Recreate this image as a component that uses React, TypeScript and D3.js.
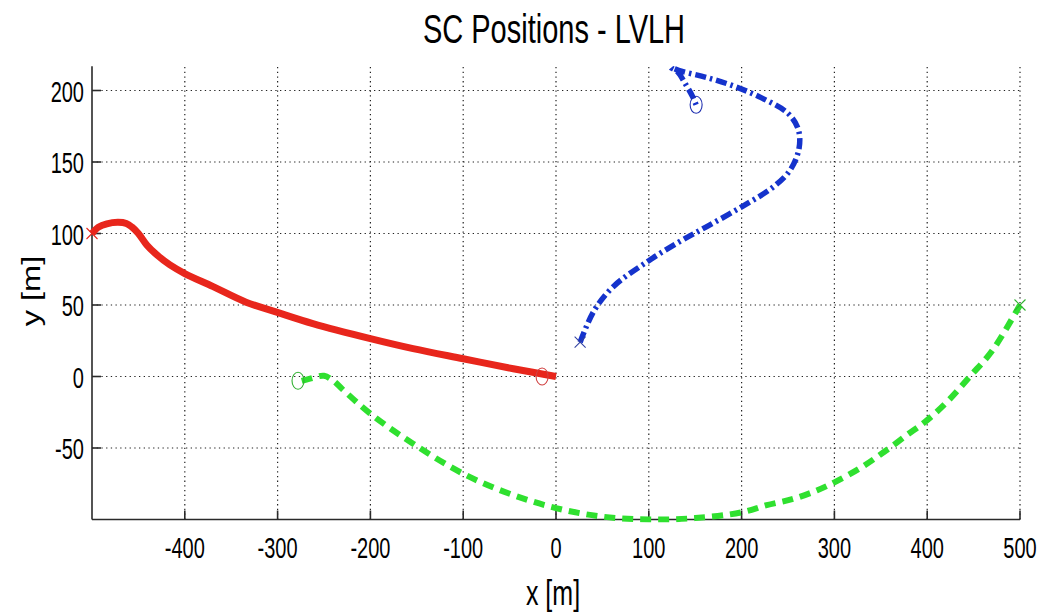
import React from "react";
import * as d3 from "d3";

const xTicks = [-400, -300, -200, -100, 0, 100, 200, 300, 400, 500];
const yTicks = [-50, 0, 50, 100, 150, 200];
const xGrid = [-400, -300, -200, -100, 0, 100, 200, 300, 400, 500];
const yGrid = [-50, 0, 50, 100, 150, 200];

// SC 1 (red, solid)
const redX = [-500, -493, -484, -472, -463, -457, -450, -441, -430, -416, -400, -370, -334, -301, -262, -200, -154, -100, -46, 0];
const redY = [100, 104.5, 106.8, 107.8, 107, 104.5, 100, 92, 85, 78, 72, 63, 52, 45, 37, 26.5, 19.5, 12.4, 5.4, 0];
const redStart = [-500, 100];
const redEnd = [-15, 0];

// SC 2 (green, dashed)
const greenX = [-274, -265, -250, -240, -230, -200, -154, -100, -50, 0, 50, 100, 150, 200, 227, 256, 281, 300, 328, 353, 378, 400, 423, 446, 470, 500];
const greenY = [-3, -1.5, 0.5, -3, -9, -26, -47, -68, -82, -92, -98, -100, -99, -95, -90, -85.5, -79.7, -74, -64, -53, -41, -30.5, -16.7, 0, 18, 50];
const greenStart = [-278, -3];
const greenEnd = [500, 50];

// SC 3 (blue, dash-dot)
const blueX = [26, 41, 62, 100, 135, 163, 201, 235, 253, 262, 261, 250, 221, 192, 163, 135, 124, 131, 140, 147, 151];
const blueY = [24, 46, 63, 81, 95, 105, 119, 133, 145, 160, 173, 184, 195, 203, 209, 213.5, 216, 213, 204, 196, 190];
const blueStart = [26, 24];
const blueEnd = [151, 190];

const W = 1057;
const H = 613;
const FONT = "'Liberation Sans', Arial, Helvetica, sans-serif";

export default function App() {
  const x = d3.scaleLinear().domain([-500, 500]).range([92, 1020]);
  const y = d3.scaleLinear().domain([-100, 217]).range([519.5, 519.5 - 317 * 1.43]);
  const [x0, x1] = x.range();
  const [yb, yt] = y.range();

  const line = d3
    .line<[number, number]>()
    .x((d) => x(d[0]))
    .y((d) => y(d[1]))
    .curve(d3.curveCatmullRom.alpha(0.5));

  const red = redX.map((v, i) => [v, redY[i]] as [number, number]);
  const green = greenX.map((v, i) => [v, greenY[i]] as [number, number]);
  const blue = blueX.map((v, i) => [v, blueY[i]] as [number, number]);

  const cross = (p: number[], color: string, key: string) => {
    const cx = x(p[0]);
    const cy = y(p[1]);
    const s = 5.5;
    return (
      <g key={key} stroke={color} strokeWidth={1.1}>
        <line x1={cx - s} y1={cy - s} x2={cx + s} y2={cy + s} />
        <line x1={cx - s} y1={cy + s} x2={cx + s} y2={cy - s} />
      </g>
    );
  };
  const circ = (p: number[], color: string, key: string) => (
    <ellipse key={key} cx={x(p[0])} cy={y(p[1])} rx={6} ry={8.5} fill="none" stroke={color} strokeWidth={1.1} />
  );

  return (
    <svg width={W} height={H} style={{ position: "absolute", left: 0, top: 0, background: "#fff" }}>
      <defs>
        <clipPath id="plotclip">
          <rect x={x0 - 6} y={yt - 3} width={x1 - x0 + 12} height={yb - yt + 6} />
        </clipPath>
      </defs>
      <rect x={0} y={0} width={W} height={H} fill="#fff" />
      {/* grid */}
      <g stroke="#222" strokeWidth={1.2} strokeDasharray="1.3,3.4">
        {xGrid.map((v) => (
          <line key={"gx" + v} x1={x(v)} x2={x(v)} y1={yb} y2={yt} />
        ))}
        {yGrid.map((v) => (
          <line key={"gy" + v} x1={x0} x2={x1} y1={y(v)} y2={y(v)} />
        ))}
      </g>
      {/* axes */}
      <g stroke="#2a2a2a" strokeWidth={1.6}>
        <line x1={x0} x2={x0} y1={yb} y2={yt} />
        <line x1={x0} x2={x1} y1={yb} y2={yb} />
        {xTicks.map((v) => (
          <line key={"tx" + v} x1={x(v)} x2={x(v)} y1={yb} y2={yb - 9} />
        ))}
        {yTicks.map((v) => (
          <line key={"ty" + v} x1={x0} x2={x0 + 9} y1={y(v)} y2={y(v)} />
        ))}
      </g>
      {/* tick labels */}
      <g fontFamily={FONT} fontSize={20} fill="#000">
        {xTicks.map((v) => (
          <text key={"lx" + v} transform={`translate(${x(v)},557.5) scale(1,1.5)`} textAnchor="middle">
            {v}
          </text>
        ))}
        {yTicks.map((v) => (
          <text key={"ly" + v} transform={`translate(84,${y(v) + 11}) scale(1,1.5)`} textAnchor="end">
            {v}
          </text>
        ))}
      </g>
      {/* data */}
      <g clipPath="url(#plotclip)" fill="none" strokeLinecap="butt" strokeLinejoin="round">
        <path d={line(red) || ""} stroke="#e8261c" strokeWidth={7} />
        <path d={line(green) || ""} stroke="#2fe02f" strokeWidth={6} strokeDasharray="11,7" />
        <path d={line(blue) || ""} stroke="#1533cc" strokeWidth={5.5} strokeDasharray="11,4,2.5,4" />
        {cross(redStart, "#e8261c", "rs")}
        {circ(redEnd, "#d04040", "re")}
        {circ(greenStart, "#30b030", "gs")}
        {cross(greenEnd, "#30b030", "ge")}
        {cross(blueStart, "#3040a0", "bs")}
        {circ(blueEnd, "#2030b0", "be")}
      </g>
      {/* titles */}
      <text
        transform="translate(554,43) scale(1,1.38)"
        textAnchor="middle"
        fontFamily={FONT}
        fontSize={29}
        fill="#000"
      >
        SC Positions - LVLH
      </text>
      <text
        transform="translate(553,605) scale(1,1.38)"
        textAnchor="middle"
        fontFamily={FONT}
        fontSize={25}
        fill="#000"
      >
        x [m]
      </text>
      <text
        transform="translate(40,291) scale(1,1.3) rotate(-90)"
        textAnchor="middle"
        fontFamily={FONT}
        fontSize={25}
        fill="#000"
      >
        y [m]
      </text>
    </svg>
  );
}
